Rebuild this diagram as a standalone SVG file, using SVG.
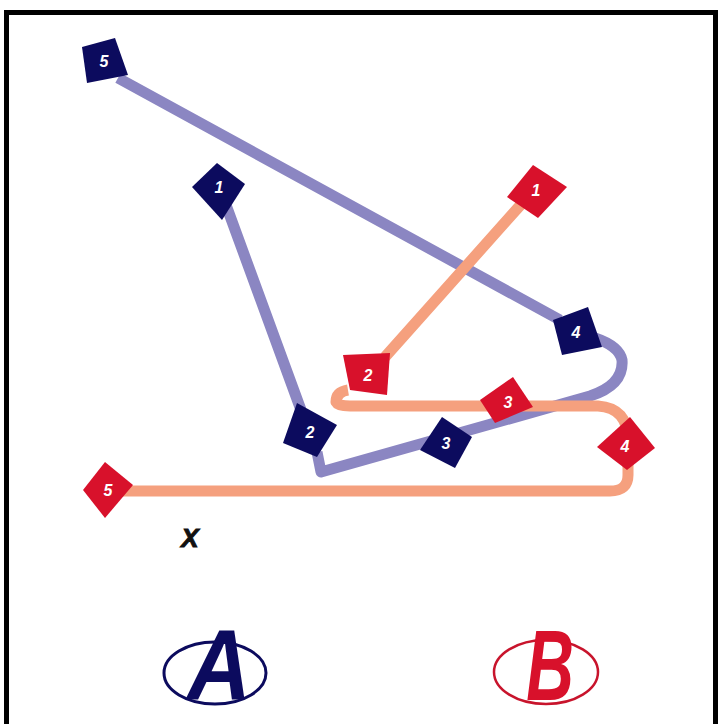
<svg xmlns="http://www.w3.org/2000/svg" width="719" height="724" viewBox="0 0 719 724">
<style>
.bg{fill:#ffffff}
.frame{fill:none;stroke:#000;stroke-width:5}
.lineA{fill:none;stroke:#8b86c2;stroke-width:11;stroke-linejoin:round;stroke-linecap:butt}
.lineB{fill:none;stroke:#f5a07e;stroke-width:11;stroke-linejoin:round;stroke-linecap:butt}
.nA{fill:#0c0b5e}
.nB{fill:#d8112b}
.num{fill:#ffffff;font-family:"Liberation Sans",Arial,sans-serif;font-weight:bold;font-style:italic;font-size:16px;text-anchor:middle;dominant-baseline:central}
.x{fill:#111;stroke:#111;stroke-width:1;font-family:"Liberation Sans",Arial,sans-serif;font-weight:bold;font-style:italic;font-size:26px;text-anchor:middle}
.big{font-family:"Liberation Sans",Arial,sans-serif;font-weight:bold;font-style:italic;font-size:100px;text-anchor:middle}
</style>
<rect class="bg" x="0" y="0" width="719" height="724"/>
<rect class="frame" x="6.5" y="12.5" width="709" height="720"/>
<g id="connectors">
<path class="lineA" d="M226,205 L301,410 M317,452 L321,472 L590,396 Q624,385 622,360 Q619,346 595,338 M560,320 L118,78"/>
<path class="lineB" d="M525,200 L385,357 M348,390 Q336,392 336,402 Q338,406 350,406 L598,406 Q628,408 628,440 L628,475 Q628,491 610,491 L120,491"/>
</g>
<g id="A5"><polygon class="nA" points="82,47 115,38 128,75 87,83"/><text class="num" x="104" y="61">5</text></g>
<g id="A1"><polygon class="nA" points="217,163 245,184 222,220 192,187"/><text class="num" x="219" y="187">1</text></g>
<g id="A4"><polygon class="nA" points="553,320 588,307 602,347 562,355"/><text class="num" x="576" y="332">4</text></g>
<g id="A2"><polygon class="nA" points="297,403 337,425 317,457 283,443"/><text class="num" x="310" y="432">2</text></g>
<g id="A3"><polygon class="nA" points="442,417 472,437 455,468 420,450"/><text class="num" x="446" y="443">3</text></g>
<g id="B1"><polygon class="nB" points="533,165 567,187 538,218 507,197"/><text class="num" x="536" y="190">1</text></g>
<g id="B2"><polygon class="nB" points="343,355 390,353 387,395 350,390"/><text class="num" x="368" y="375">2</text></g>
<g id="B3"><polygon class="nB" points="513,377 533,407 495,423 480,400"/><text class="num" x="508" y="402">3</text></g>
<g id="B4"><polygon class="nB" points="630,417 655,448 627,470 597,447"/><text class="num" x="625" y="446">4</text></g>
<g id="B5"><polygon class="nB" points="105,462 133,485 105,518 83,490"/><text class="num" x="108" y="490">5</text></g>
<text class="x" x="190" y="547">X</text>
<g id="labelA">
<ellipse cx="215" cy="673" rx="51" ry="31" fill="none" stroke="#0c0b5e" stroke-width="3"/>
<text class="big" fill="#0c0b5e" transform="translate(219,700) scale(0.88,1)" x="0" y="0">A</text>
</g>
<g id="labelB">
<ellipse cx="546" cy="672" rx="52" ry="32" fill="none" stroke="#c8142c" stroke-width="2.5"/>
<text class="big" fill="#d8112b" transform="translate(550,700) scale(0.66,1)" x="0" y="0">B</text>
</g>
</svg>
